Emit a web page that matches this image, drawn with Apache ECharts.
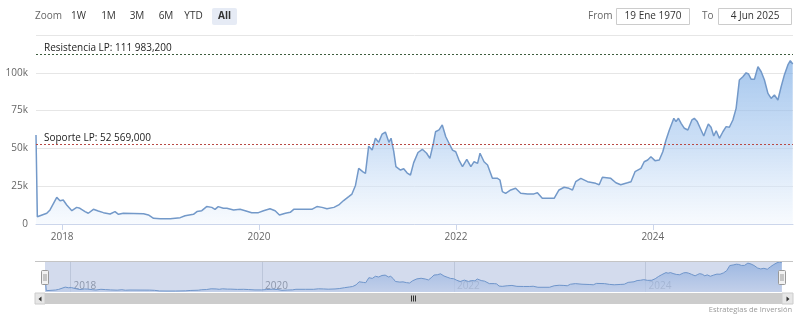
<!DOCTYPE html>
<html>
<head>
<meta charset="utf-8">
<script src="https://cdn.jsdelivr.net/npm/echarts@6/dist/echarts.min.js"></script>
<style>
html,body{margin:0;padding:0;background:#fff;}
#chart{width:800px;height:321px;}
</style>
</head>
<body>
<div id="chart"></div>
<script>
// ---- data (values in thousands) ----
const dates = ['2017-09-26','2017-10-01','2017-11-05','2017-11-17','2017-12-12','2017-12-24','2018-01-05','2018-01-18','2018-02-06','2018-02-24','2018-03-08','2018-03-27','2018-04-08','2018-04-27','2018-05-15','2018-06-03','2018-06-28','2018-07-16','2018-07-29','2018-08-16','2018-10-30','2018-11-17','2018-12-06','2018-12-31','2019-02-06','2019-03-15','2019-04-02','2019-05-03','2019-05-16','2019-06-03','2019-06-21','2019-07-10','2019-07-22','2019-08-03','2019-08-22','2019-09-04','2019-09-29','2019-10-23','2019-11-11','2019-12-05','2019-12-30','2020-01-18','2020-02-11','2020-03-01','2020-03-17','2020-04-08','2020-04-26','2020-05-09','2020-06-14','2020-07-15','2020-08-03','2020-08-22','2020-09-09','2020-10-05','2020-10-23','2020-11-10','2020-11-29','2020-12-11','2020-12-24','2021-01-05','2021-01-21','2021-01-30','2021-02-11','2021-02-24','2021-03-08','2021-03-20','2021-04-02','2021-04-14','2021-04-27','2021-05-05','2021-05-15','2021-05-23','2021-06-09','2021-06-21','2021-07-04','2021-07-16','2021-07-28','2021-08-13','2021-08-29','2021-09-14','2021-09-26','2021-10-09','2021-10-17','2021-10-30','2021-11-11','2021-11-24','2021-12-06','2021-12-19','2021-12-31','2022-01-12','2022-01-25','2022-02-10','2022-02-25','2022-03-09','2022-03-22','2022-03-31','2022-04-15','2022-04-28','2022-05-16','2022-06-04','2022-06-13','2022-06-22','2022-07-04','2022-07-23','2022-08-10','2022-08-29','2022-09-23','2022-10-17','2022-10-30','2022-11-17','2022-12-31','2023-01-18','2023-02-06','2023-02-24','2023-03-09','2023-03-21','2023-04-09','2023-05-04','2023-06-03','2023-06-16','2023-06-28','2023-07-29','2023-08-17','2023-09-04','2023-09-29','2023-10-12','2023-10-27','2023-11-18','2023-11-30','2023-12-13','2023-12-25','2024-01-09','2024-01-25','2024-02-07','2024-02-19','2024-03-02','2024-03-19','2024-03-27','2024-04-05','2024-04-15','2024-04-27','2024-05-10','2024-05-25','2024-06-03','2024-06-13','2024-06-25','2024-07-08','2024-07-16','2024-07-25','2024-08-04','2024-08-14','2024-08-23','2024-09-04','2024-09-17','2024-09-29','2024-10-11','2024-10-24','2024-11-05','2024-11-17','2024-11-30','2024-12-12','2024-12-21','2024-12-31','2025-01-12','2025-01-25','2025-02-06','2025-02-18','2025-03-03','2025-03-15','2025-03-27','2025-04-09','2025-04-21','2025-05-03','2025-05-16','2025-05-25','2025-06-03'];
const pricesK = [58.9,4.8,7.1,9.3,17.6,15.4,15.9,12.6,8.8,11.0,10.4,8.2,7.1,9.7,8.6,7.5,6.6,8.2,6.4,7.1,6.8,6.0,3.8,3.5,3.5,4.2,5.5,6.4,8.2,8.8,11.5,11.0,9.7,11.5,10.4,10.4,9.3,9.7,8.8,7.5,7.5,8.8,10.1,8.8,6.0,7.1,7.7,9.7,9.7,9.7,11.5,11.0,10.1,11.0,12.6,15.5,18.1,19.8,25.5,36.8,34.5,33.5,51.5,48.9,56.7,54.0,59.5,60.8,54.0,56.7,48.0,37.9,35.7,36.5,33.7,32.4,40.6,47.3,49.4,46.8,43.4,53.4,61.0,62.2,65.5,57.7,53.4,48.9,47.8,42.3,37.9,42.8,37.9,41.2,40.1,46.8,41.2,39.0,30.2,30.2,29.1,21.4,20.3,22.5,23.6,20.3,19.9,19.9,20.7,17.0,17.0,22.5,24.3,23.6,22.5,28.0,30.2,28.0,26.9,26.0,30.9,30.2,27.3,26.0,27.3,28.0,34.6,36.8,41.2,42.3,44.5,41.9,42.3,47.8,55.6,62.0,69.9,67.7,69.9,66.6,63.3,62.2,68.8,69.9,68.0,63.3,58.2,62.2,66.1,64.0,58.2,61.7,56.7,61.0,64.4,64.0,68.8,76.5,95.2,97.4,100.0,99.2,95.7,95.7,104.0,100.7,95.2,86.4,83.1,85.3,82.0,90.8,98.6,105.2,108.0,105.8];
const xTickYears = ['2018','2020','2022','2024'];
const yTickValues = [0,25,50,75,100];
const yTickLabels = ['0','25k','50k','75k','100k'];
const yMax = 125;
const startDate = '2017-09-26';
const endDate = '2025-06-04';
const levelValues = [111.9832, 52.569];
const levelLabels = ['Resistencia LP: 111 983,200', 'Soporte LP: 52 569,000'];
const levelColors = ['#3d5c3d', '#b84a45'];
const zoomButtons = ['1W','1M','3M','6M','YTD','All'];
const fromText = '19 Ene 1970';
const toText = '4 Jun 2025';
const creditText = 'Estrategias de Inversión';

// ---- build ----
const FONT = '"Open Sans", "Liberation Sans", sans-serif';
function ts(s) { const p = s.split('-').map(Number); return Date.UTC(p[0], p[1] - 1, p[2]); }
const seriesData = dates.map((d, i) => [ts(d), pricesK[i]]);
const yearTicks = xTickYears.map(y => ts(y + '-01-01'));
const xMin = ts(startDate), xMax = ts(endDate);
const yearLabel = (v) => { const i = yearTicks.indexOf(v); return i >= 0 ? xTickYears[i] : ''; };

const chart = echarts.init(document.getElementById('chart'), null, {renderer: 'canvas'});

const btnCenters = [78.5, 108.5, 137, 166, 193.5, 224.5];
const graphics = [];
graphics.push({type:'text', x:35, y:16.5, style:{text:'Zoom', fill:'#666', verticalAlign:'middle', font:'10px ' + FONT}});
zoomButtons.forEach((b, i) => {
  if (b === 'All') {
    graphics.push({type:'rect', shape:{x:212, y:8, width:25, height:17, r:2}, style:{fill:'#e6ebf5'}});
  }
  graphics.push({type:'text', x:btnCenters[i], y:16.5, style:{text:b, fill:'#333', align:'center', verticalAlign:'middle', font:(b==='All'?'bold ':'') + '10px ' + FONT}});
});
graphics.push({type:'text', x:588, y:16.5, style:{text:'From', fill:'#666', verticalAlign:'middle', font:'10px ' + FONT}});
graphics.push({type:'rect', shape:{x:616.5, y:8.5, width:73, height:16}, style:{fill:'#fff', stroke:'#cccccc', lineWidth:1}});
graphics.push({type:'text', x:653, y:16.5, style:{text:fromText, fill:'#333', align:'center', verticalAlign:'middle', font:'10px ' + FONT}});
graphics.push({type:'text', x:702, y:16.5, style:{text:'To', fill:'#666', verticalAlign:'middle', font:'10px ' + FONT}});
graphics.push({type:'rect', shape:{x:718.5, y:8.5, width:73, height:16}, style:{fill:'#fff', stroke:'#cccccc', lineWidth:1}});
graphics.push({type:'text', x:755, y:16.5, style:{text:toText, fill:'#333', align:'center', verticalAlign:'middle', font:'10px ' + FONT}});
// navigator outline
graphics.push({type:'line', shape:{x1:35, y1:261.5, x2:793, y2:261.5}, style:{stroke:'#c4c4c4', lineWidth:1}, z:100});
// navigator handles
[45, 782].forEach(hx => {
  graphics.push({type:'rect', shape:{x:hx-3.5, y:270.5, width:7, height:14, r:1}, style:{fill:'#f2f2f2', stroke:'#999', lineWidth:1}, z:101});
  graphics.push({type:'line', shape:{x1:hx-1, y1:274, x2:hx-1, y2:281}, style:{stroke:'#999', lineWidth:1}, z:102});
  graphics.push({type:'line', shape:{x1:hx+1, y1:274, x2:hx+1, y2:281}, style:{stroke:'#999', lineWidth:1}, z:102});
});
// scrollbar
graphics.push({type:'rect', shape:{x:35, y:293, width:758, height:11}, style:{fill:'#f2f2f2'}});
graphics.push({type:'rect', shape:{x:45, y:293, width:737, height:11}, style:{fill:'#cccccc'}});
graphics.push({type:'rect', shape:{x:35, y:293, width:10, height:11}, style:{fill:'#e6e6e6', stroke:'#cccccc', lineWidth:1}});
graphics.push({type:'rect', shape:{x:782, y:293, width:11, height:11}, style:{fill:'#e6e6e6', stroke:'#cccccc', lineWidth:1}});
graphics.push({type:'polygon', shape:{points:[[41.5,296.5],[41.5,301.5],[38.5,299]]}, style:{fill:'#333'}});
graphics.push({type:'polygon', shape:{points:[[786.5,296.5],[786.5,301.5],[789.5,299]]}, style:{fill:'#333'}});
[411.5, 413.5, 415.5].forEach(rx => {
  graphics.push({type:'line', shape:{x1:rx, y1:295.5, x2:rx, y2:301.5}, style:{stroke:'#333', lineWidth:1}});
});
graphics.push({type:'text', x:792, y:310, style:{text:creditText, fill:'#999', align:'right', verticalAlign:'middle', font:'7.5px ' + FONT}});

const option = {
  animation: false,
  textStyle: {fontFamily: FONT},
  grid: [
    {left:36, right:7, top:35, height:189},
    {left:45, right:18, top:262, height:30, show:true, backgroundColor:'#d3dbed', borderWidth:0}
  ],
  xAxis: [
    {
      type:'value', gridIndex:0, min:xMin, max:xMax, scale:true,
      axisLine:{show:true, lineStyle:{color:'#ccd6eb'}},
      axisTick:{show:true, customValues:yearTicks, length:6, lineStyle:{color:'#ccd6eb'}},
      axisLabel:{customValues:yearTicks, formatter:yearLabel, color:'#666', fontSize:10, margin:8, fontFamily:FONT},
      splitLine:{show:false}
    },
    {
      type:'value', gridIndex:1, min:xMin, max:xMax, scale:true,
      axisLine:{show:false},
      axisTick:{show:false, customValues:yearTicks},
      axisLabel:{customValues:yearTicks, formatter:yearLabel, inside:true, align:'left', padding:[0,0,0,3], margin:1, color:'#8c96aa', fontSize:10, fontFamily:FONT},
      splitLine:{show:true, lineStyle:{color:'#bcc6da', width:1}}
    }
  ],
  yAxis: [
    {
      type:'value', gridIndex:0, min:0, max:yMax, interval:25,
      axisLine:{show:false}, axisTick:{show:false},
      axisLabel:{color:'#666', fontSize:10, margin:8, fontFamily:FONT, verticalAlign:'middle', padding:[0,0,8,0],
        formatter:(v) => { const i = yTickValues.indexOf(v); return i >= 0 ? yTickLabels[i] : ''; }},
      splitLine:{show:true, lineStyle:{color:'#e6e6e6'}}
    },
    {type:'value', gridIndex:1, min:0, max:'dataMax', show:false, splitLine:{show:false}}
  ],
  series: [
    {
      type:'line', xAxisIndex:0, yAxisIndex:0, data:seriesData, showSymbol:false, symbol:'none',
      lineStyle:{color:'#7399c9', width:1.5},
      areaStyle:{color:new echarts.graphic.LinearGradient(0,0,0,1,[
        {offset:0, color:'rgba(120,170,228,0.95)'},
        {offset:0.5, color:'rgba(170,202,240,0.85)'},
        {offset:1, color:'rgba(240,246,253,0.7)'}
      ])},
      markLine:{
        silent:true, symbol:['none','none'], animation:false,
        data: levelValues.map((v, i) => ({
          yAxis:v,
          lineStyle:{color:levelColors[i], type:[2,2], width:1},
          label:{show:true, formatter:levelLabels[i], position:'insideStartTop', distance:[8,1.5], color:'#222', fontSize:10, fontFamily:FONT}
        }))
      }
    },
    {
      type:'line', xAxisIndex:1, yAxisIndex:1, data:seriesData, showSymbol:false, symbol:'none',
      lineStyle:{color:'#6f95ca', width:1},
      areaStyle:{color:new echarts.graphic.LinearGradient(0,0,0,1,[
        {offset:0, color:'#86a9dd'},
        {offset:1, color:'#bccbe8'}
      ])}
    }
  ],
  graphic: graphics
};
chart.setOption(option);
</script>
</body>
</html>
